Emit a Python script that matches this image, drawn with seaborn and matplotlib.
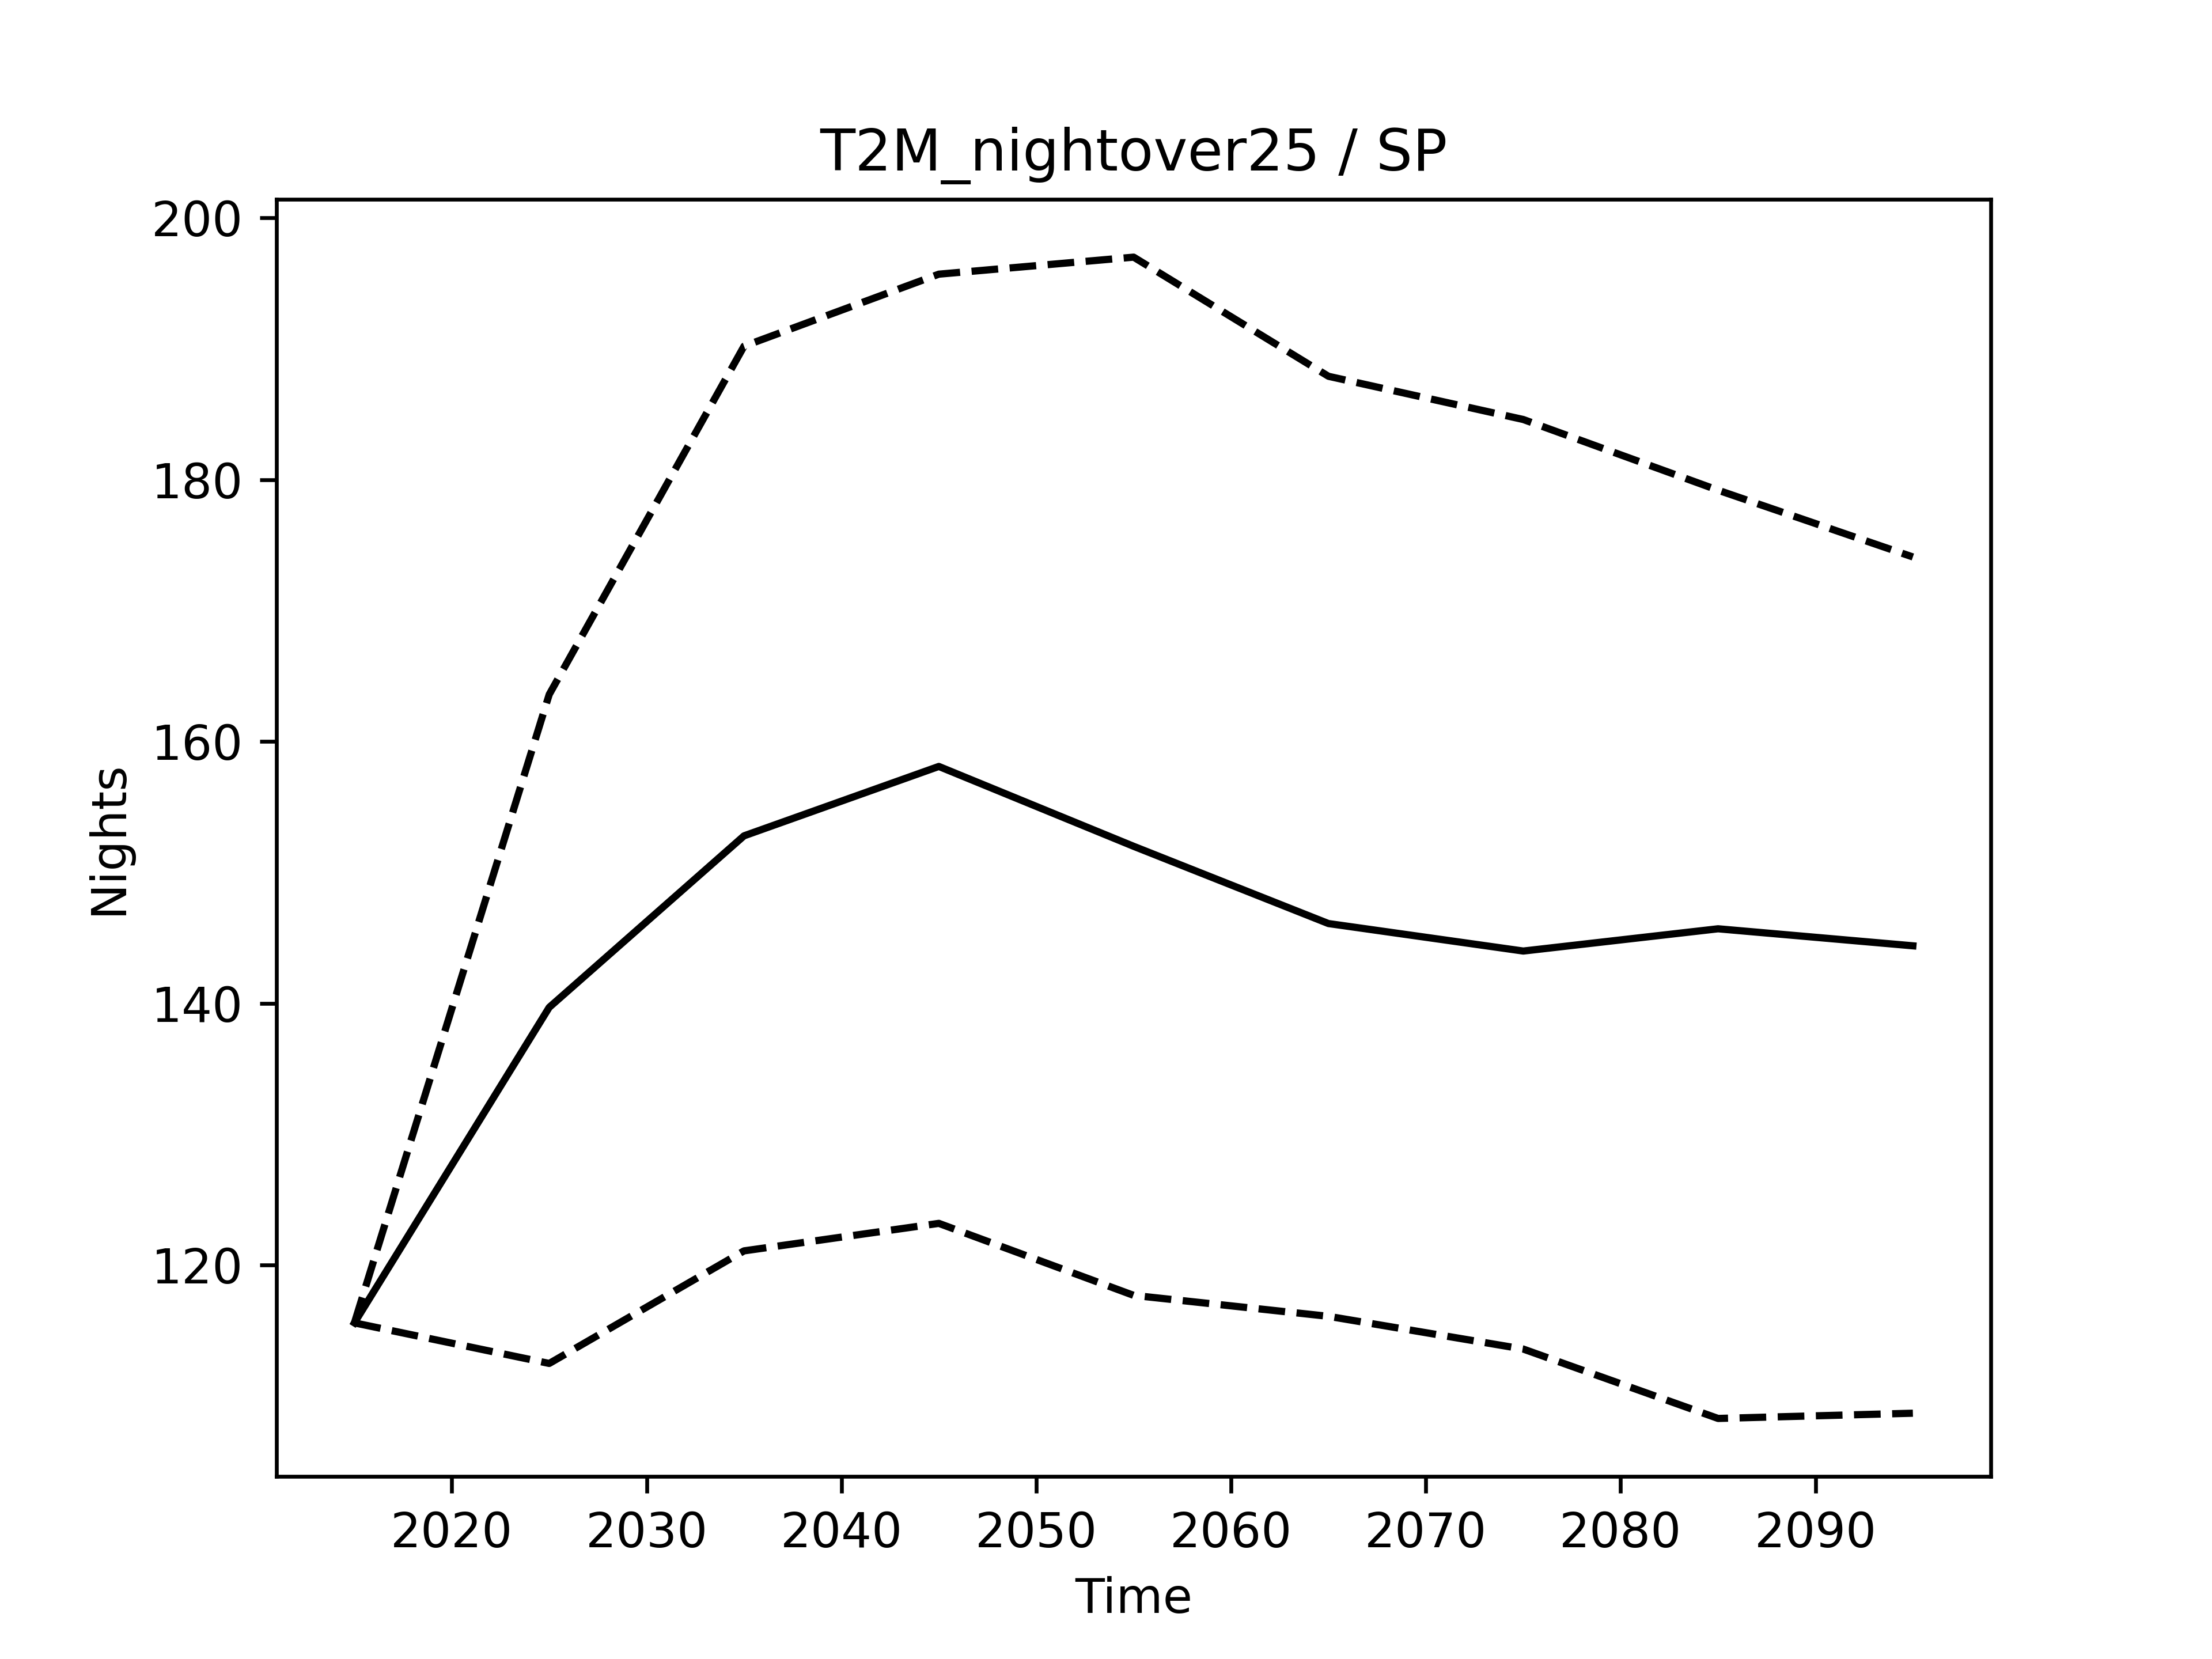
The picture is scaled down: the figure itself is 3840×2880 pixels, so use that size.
import matplotlib
matplotlib.use("Agg")
import matplotlib.pyplot as plt
import seaborn as sns
import pandas as pd

years = [2015, 2025, 2035, 2045, 2055, 2065, 2075, 2085, 2095]
mean_vals = [115.6, 139.7, 152.8, 158.1, 152.0, 146.1, 144.0, 145.7, 144.4]
upper_vals = [115.6, 163.6, 190.2, 195.7, 197.0, 187.9, 184.6, 179.2, 174.1]
lower_vals = [115.6, 112.5, 121.1, 123.2, 117.7, 116.1, 113.6, 108.3, 108.7]

fig, ax = plt.subplots(figsize=(6.4, 4.8), dpi=600)
df = pd.DataFrame({"Time": years, "mean": mean_vals, "upper": upper_vals, "lower": lower_vals})
sns.lineplot(data=df, x="Time", y="upper", ax=ax, color="black", linestyle="--", linewidth=1.5)
sns.lineplot(data=df, x="Time", y="mean", ax=ax, color="black", linestyle="-", linewidth=1.5)
sns.lineplot(data=df, x="Time", y="lower", ax=ax, color="black", linestyle="--", linewidth=1.5)
ax.set_title("T2M_nightover25 / SP")
ax.set_xlabel("Time")
ax.set_ylabel("Nights")
fig.savefig("out.png", dpi=600)
